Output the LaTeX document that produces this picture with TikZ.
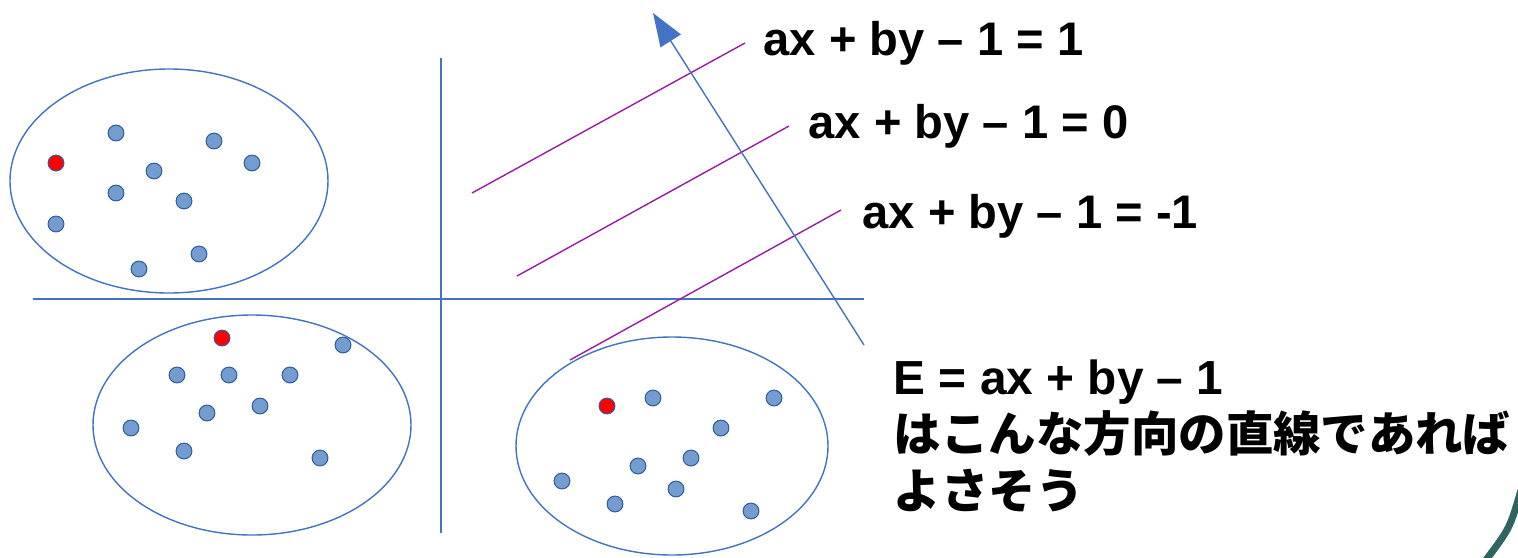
\documentclass[tikz,border=0pt]{standalone}
\usepackage{fontspec}
\setmainfont{Liberation Sans}
\newfontfamily\jpfont{Noto Sans CJK JP}
\usetikzlibrary{arrows.meta}
\definecolor{lineblue}{RGB}{68,114,196}
\definecolor{dotblue}{RGB}{114,157,206}
\definecolor{dotedge}{RGB}{52,92,160}
\definecolor{margin}{RGB}{150,30,160}
\definecolor{teal}{RGB}{47,101,97}
\tikzset{
  bluedot/.style={circle, fill=dotblue, draw=dotedge, line width=0.3pt, minimum size=4.5pt, inner sep=0pt},
  reddot/.style={bluedot, fill=red},
  eqlabel/.style={anchor=base west, inner sep=0pt, font=\bfseries\fontsize{13.4pt}{16pt}\selectfont},
  jplabel/.style={eqlabel, font=\jpfont\bfseries\fontsize{13.5pt}{16pt}\selectfont},
}
\begin{document}
\begin{tikzpicture}[x=0.01cm, y=-0.01cm, line width=0.4pt, >=Triangle]
  \useasboundingbox (0,0) rectangle (1518,557);
  % 座標軸
  \draw[lineblue] (441,58) -- (441,533);
  \draw[lineblue] (33,299) -- (864,299);
  % 三つのクラスタ
  \draw[lineblue] (169,181) ellipse [x radius=159, y radius=112];
  \draw[lineblue] (252,425) ellipse [x radius=159, y radius=110];
  \draw[lineblue] (672,446) ellipse [x radius=156, y radius=109];
  \foreach \px/\py [count=\i] in {116/133, 214/141, 252/163, 154/171, 116/193, 184/201, 56/224, 199/254, 139/269}
    \node[bluedot] (pa\i) at (\px,\py) {};
  \node[reddot] (pa0) at (56,163) {};
  \foreach \px/\py [count=\i] in {343/345, 177/375, 229/375, 290/375, 207/413, 260/406, 131/428, 184/451, 320/458}
    \node[bluedot] (pb\i) at (\px,\py) {};
  \node[reddot] (pb0) at (222,338) {};
  \foreach \px/\py [count=\i] in {653/398, 774/398, 721/428, 691/458, 638/466, 562/481, 676/489, 615/504, 751/511}
    \node[bluedot] (pc\i) at (\px,\py) {};
  \node[reddot] (pc0) at (607,406) {};
  % 平行な三本の直線
  \coordinate (upA) at (472,193);  \coordinate (upB) at (745,43);
  \coordinate (midA) at (517,276); \coordinate (midB) at (789,126);
  \coordinate (lowA) at (570,360); \coordinate (lowB) at (841,210);
  \draw[margin] (upA) -- (upB);
  \draw[margin] (midA) -- (midB);
  \draw[margin] (lowA) -- (lowB);
  % 法線方向の矢印
  \coordinate (normtail) at (864,345);
  \coordinate (normtip) at (653,13);
  \draw[lineblue, -{Triangle[length=9.4pt, width=6.8pt]}] (normtail) -- (normtip);
  % ラベル
  \node[eqlabel] (eqone) at (763,55) {ax + by – 1 = 1};
  \node[eqlabel] (eqzero) at (808,138) {ax + by – 1 = 0};
  \node[eqlabel] (eqmone) at (862,228) {ax + by – 1 = -1};
  \node[eqlabel, font=\bfseries\fontsize{13.6pt}{16pt}\selectfont] (eline) at (893,394) {E = ax + by – 1};
  \node[jplabel] (jpone) at (893,451) {はこんな方向の直線であれば};
  \node[jplabel] (jptwo) at (893,508) {よさそう};
  % 右下の飾り
  \draw[teal, line width=2pt] (1521,490) .. controls (1510,528) .. (1486,560);
\end{tikzpicture}
\end{document}
